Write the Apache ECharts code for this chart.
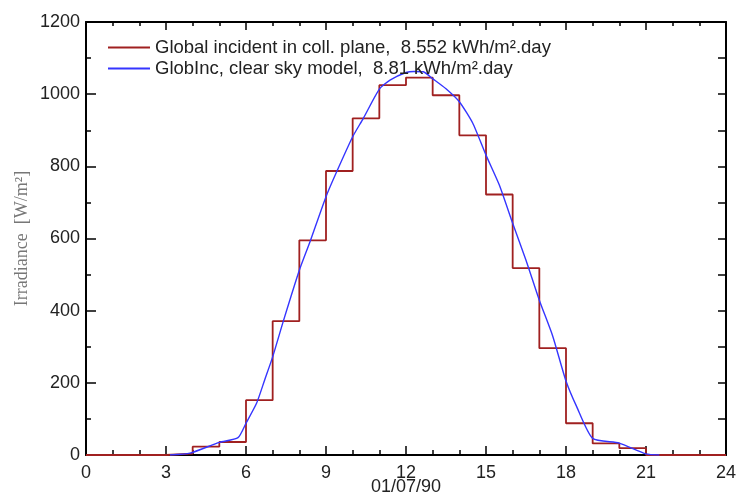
<!DOCTYPE html>
<html><head><meta charset="utf-8">
<script src="https://cdn.jsdelivr.net/npm/echarts@6/dist/echarts.min.js"></script>
<style>html,body{margin:0;padding:0;background:#fff}#c{width:738px;height:495px}</style>
</head><body><div id="c"></div>
<script>
// Hourly global incident irradiance (value held for hour h .. h+1)
const hours = [0,1,2,3,4,5,6,7,8,9,10,11,12,13,14,15,16,17,18,19,20,21,22,23,24];
const globalInc = [0,0,0,4,23,36,152,371,595,787,933,1025,1046,997,886,722,518,296,88,32,19,0,0,0,0];
// Clear sky model curve
const clearHours = [3.15,3.9,5.0,5.7,6.0,6.4,6.7,7.0,7.4,8.0,8.4,9.0,9.4,10.0,10.4,11.0,11.4,12.0,12.3,12.65,13.0,13.5,14.0,14.5,15.0,15.5,16.0,16.5,17.0,17.5,18.0,18.4,19.0,20.0,21.0,21.5];
const clearValues = [0,5,35,48,88,144,208,272,371,512,591,716,785,882,933,1014,1039,1060,1063,1062,1043,1015,979,920,831,748,642,540,429,330,205,134,46,33,3,0];
const xTicks = {min:0, max:24, interval:3};
const yTicks = {min:0, max:1200, interval:200};
const labelGlobal = 'Global incident in coll. plane,  8.552 kWh/m\u00b2.day';
const labelClear = 'GlobInc, clear sky model,  8.81 kWh/m\u00b2.day';

const chart = echarts.init(document.getElementById('c'));
const font = 'Liberation Sans, Arial, sans-serif';
const axisLine = {show:true, onZero:false, lineStyle:{color:'#000', width:2}};
chart.setOption({
  animation:false,
  backgroundColor:'#fff',
  grid:{left:86, right:12, top:22, bottom:40, containLabel:false, outerBoundsMode:'none'},
  legend:{
    orient:'vertical', left:103, top:33, itemWidth:42, itemHeight:2, itemGap:2,
    icon:'rect',
    textStyle:{fontFamily:font, fontSize:18.5, color:'#222', lineHeight:19},
    data:[labelGlobal, labelClear]
  },
  xAxis:[{
    type:'value', min:xTicks.min, max:xTicks.max, interval:xTicks.interval,
    axisLine:axisLine,
    axisTick:{show:true, inside:true, length:9, lineStyle:{color:'#000', width:1.5}},
    minorTick:{show:true, splitNumber:3, length:5, lineStyle:{color:'#000', width:1.5}},
    axisLabel:{fontFamily:font, fontSize:18, color:'#222', margin:9},
    splitLine:{show:false}, minorSplitLine:{show:false},
    name:'01/07/90', nameLocation:'middle', nameGap:23, nameMoveOverlap:false,
    nameTextStyle:{fontFamily:font, fontSize:18, color:'#222', verticalAlign:'top'}
  },{
    type:'value', position:'top', min:xTicks.min, max:xTicks.max, interval:xTicks.interval,
    axisLine:axisLine,
    axisTick:{show:true, inside:true, length:8, lineStyle:{color:'#000', width:1.5}},
    minorTick:{show:true, splitNumber:3, length:4, lineStyle:{color:'#000', width:1.5}},
    axisLabel:{show:false}, splitLine:{show:false}
  }],
  yAxis:[{
    type:'value', min:yTicks.min, max:yTicks.max, interval:yTicks.interval,
    axisLine:axisLine,
    axisTick:{show:true, inside:true, length:10, lineStyle:{color:'#000', width:1.5}},
    minorTick:{show:true, splitNumber:2, length:5, lineStyle:{color:'#000', width:1.5}},
    axisLabel:{fontFamily:font, fontSize:18, color:'#222', margin:6, formatter:v=>String(v)},
    splitLine:{show:false}, minorSplitLine:{show:false},
    name:'Irradiance  [W/m\u00b2]', nameLocation:'middle', nameGap:55, nameRotate:90, nameMoveOverlap:false,
    nameTextStyle:{fontFamily:'Liberation Serif, Times New Roman, serif', fontSize:18, color:'#777'}
  },{
    type:'value', position:'right', min:yTicks.min, max:yTicks.max, interval:100,
    axisLine:axisLine,
    axisTick:{show:true, inside:true, length:8, lineStyle:{color:'#000', width:1.5}},
    axisLabel:{show:false}, splitLine:{show:false}
  }],
  series:[{
    name:labelGlobal, type:'line', step:'end', symbol:'none',
    xAxisIndex:0, yAxisIndex:0,
    data:hours.map((h,i)=>[h, globalInc[i]]),
    lineStyle:{color:'#a02020', width:1.8}, itemStyle:{color:'#a02020'}
  },{
    name:labelClear, type:'line', symbol:'none', smooth:0.2,
    xAxisIndex:0, yAxisIndex:0,
    data:clearHours.map((h,i)=>[h, clearValues[i]]),
    lineStyle:{color:'#3535ff', width:1.4}, itemStyle:{color:'#3535ff'}
  }]
});
</script></body></html>
